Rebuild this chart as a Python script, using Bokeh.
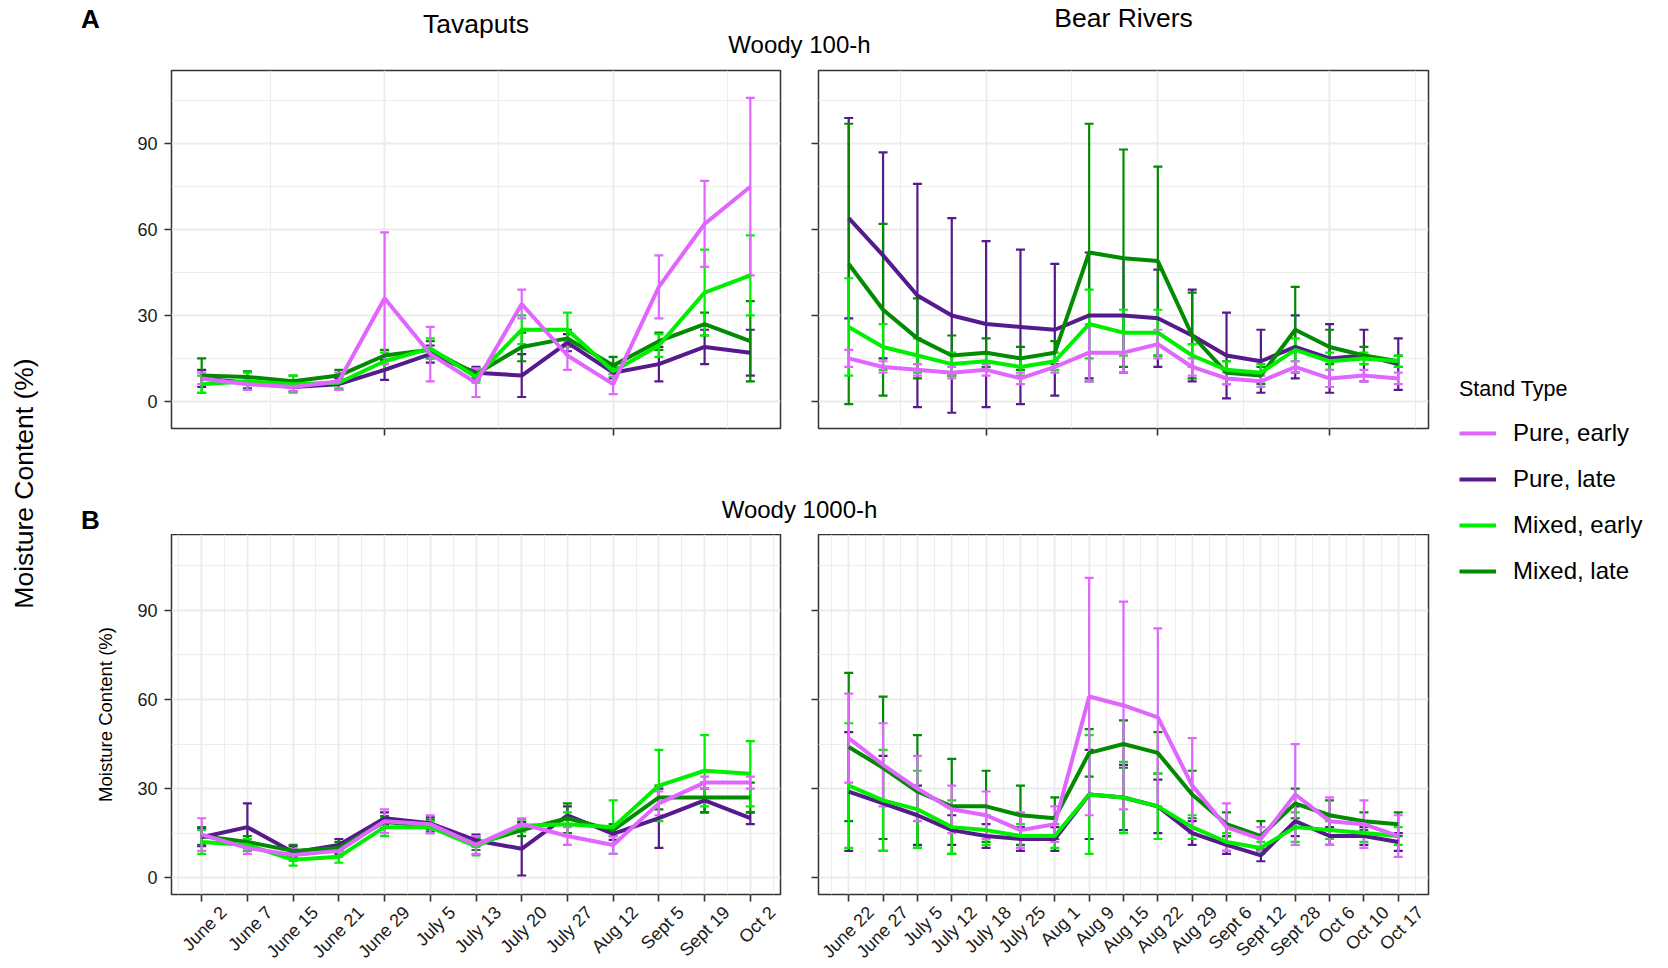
import math
from bokeh.plotting import figure
from bokeh.models import (Range1d, FixedTicker, Whisker, TeeHead, ColumnDataSource,
                          Label, Legend, LegendItem)
from bokeh.core.properties import value
from bokeh.layouts import row, column
from bokeh.embed import file_html
from bokeh.resources import INLINE

FONT = "Liberation Sans"

# ---------------- data ----------------
dates_tavaputs = ["June 2", "June 7", "June 15", "June 21", "June 29", "July 5", "July 13",
                  "July 20", "July 27", "Aug 12", "Sept 5", "Sept 19", "Oct 2"]
dates_bear = ["June 22", "June 27", "July 5", "July 12", "July 18", "July 25", "Aug 1", "Aug 9",
              "Aug 15", "Aug 22", "Aug 29", "Sept 6", "Sept 12", "Sept 28", "Oct 6", "Oct 10", "Oct 17"]

series_names = ["Pure, early", "Pure, late", "Mixed, early", "Mixed, late"]
series_colors = ["#E066FF", "#551A8B", "#00EE00", "#008B00"]

# Woody 100-h, Tavaputs
t100_pure_early = [8, 6, 5, 7, 36, 16.5, 6.5, 34, 16, 6, 40, 62, 75]
t100_pure_early_err = [2, 2, 1.5, 3, 23, 9.5, 5, 5, 5, 3.5, 11, 15, 31]
t100_pure_late = [8, 6.5, 5, 6, 11, 16.5, 10, 9, 20.5, 10, 13, 19, 17]
t100_pure_late_err = [3, 2, 1.5, 2, 3.5, 3, 2, 7.5, 3, 2, 6, 6, 8]
t100_mixed_early = [6, 7, 6, 6.5, 14, 18.5, 8.5, 25, 25, 10.5, 19.5, 38, 44]
t100_mixed_early_err = [3, 3, 3, 2, 3, 3.5, 2, 5, 6, 2, 4, 15, 14]
t100_mixed_late = [9, 8.5, 7, 9, 16, 18, 9.5, 19, 22, 12.5, 21, 27, 21]
t100_mixed_late_err = [6, 2, 2, 2, 2, 3, 2, 5, 3, 3, 3, 4, 14]

# Woody 100-h, Bear Rivers
b100_pure_early = [15, 12, 11, 10, 11, 8, 12, 17, 17, 20, 12, 8, 7, 12, 8, 9, 8]
b100_pure_early_err = [3, 2, 2, 2, 2, 2, 2, 10, 7, 5, 3, 2, 2, 2, 3, 2, 2]
b100_pure_late = [64, 51, 37, 30, 27, 26, 25, 30, 30, 29, 23, 16, 14, 19, 15, 16, 13]
b100_pure_late_err = [35, 36, 39, 34, 29, 27, 23, 22, 20, 17, 16, 15, 11, 11, 12, 9, 9]
b100_mixed_early = [26, 19, 16, 13, 14, 12, 14, 27, 24, 24, 16, 11, 10, 18, 14, 15, 14]
b100_mixed_early_err = [17, 8, 6, 4, 3, 3, 3, 12, 8, 8, 4, 3, 3, 4, 3, 2, 2]
b100_mixed_late = [48, 32, 22, 16, 17, 15, 17, 52, 50, 49, 23, 10, 9, 25, 19, 16, 14]
b100_mixed_late_err = [49, 30, 14, 7, 5, 4, 4, 45, 38, 33, 15, 4, 3, 15, 6, 3, 2]

# Woody 1000-h, Tavaputs
t1000_pure_early = [14.5, 10, 7.6, 9, 19, 18, 11, 18, 14, 11, 25, 32, 32]
t1000_pure_early_err = [5.5, 2, 2, 2, 4, 3, 3, 2, 3, 3, 4, 2, 2]
t1000_pure_late = [13.6, 17, 8.5, 11, 20, 18.3, 12.5, 9.7, 21, 14.7, 20, 26, 20]
t1000_pure_late_err = [3, 8, 2, 2, 2, 2, 2, 9, 3, 2, 10, 4, 2]
t1000_mixed_early = [12, 11, 6, 7, 17, 17, 10.5, 17.5, 18, 17, 31, 36, 35]
t1000_mixed_early_err = [4, 2, 2, 2, 3, 2, 3, 2, 4, 9, 12, 12, 11]
t1000_mixed_late = [14, 12, 9, 10, 18.7, 17.5, 11.3, 16, 20, 16, 27, 27, 27]
t1000_mixed_late_err = [3, 2, 2, 2, 2, 2, 2, 2, 5, 2, 4, 5, 5]

# Woody 1000-h, Bear Rivers
b1000_pure_early = [47, 38, 30, 23, 21, 16, 18, 61, 58, 54, 31, 17, 13, 28, 19, 18, 14]
b1000_pure_early_err = [15, 14, 11, 8, 8, 6, 6, 40, 35, 30, 16, 8, 4, 17, 8, 8, 7]
b1000_pure_late = [29, 25, 21, 16, 14, 13, 13, 28, 27, 24, 15, 11, 7.5, 19, 14, 14, 12]
b1000_pure_late_err = [20, 16, 10, 5, 4, 4, 4, 15, 11, 9, 4, 3, 2, 5, 3, 3, 3]
b1000_mixed_early = [31, 26, 23, 17, 16, 14, 14, 28, 27, 24, 17, 12, 10, 17, 16, 15, 14]
b1000_mixed_early_err = [21, 17, 13, 9, 5, 4, 4, 20, 12, 11, 4, 3, 2, 5, 3, 3, 3]
b1000_mixed_late = [44, 37, 29, 24, 24, 21, 20, 42, 45, 42, 28, 18, 14, 25, 21, 19, 18]
b1000_mixed_late_err = [25, 24, 19, 16, 12, 10, 7, 8, 8, 7, 8, 4, 5, 5, 5, 3, 4]

y_ticks = [0, 30, 60, 90]
y_minor = [15, 45, 75, 105]

DRAW_ORDER = [1, 3, 2, 0]
GRID = "#EBEBEB"
DARK = "#333333"
TXT = "#1a1a1a"


def make_panel(cats, vals, errs, xr, yr, width, height, mb, major_x, minor_x,
               show_y_labels, y_axis_label=None):
    p = figure(width=width, height=height, x_range=Range1d(*xr), y_range=Range1d(*yr),
               output_backend="svg", toolbar_location=None, title=None,
               min_border_left=mb[0], min_border_right=mb[1],
               min_border_top=mb[2], min_border_bottom=mb[3])
    p.background_fill_color = "white"
    p.border_fill_color = "white"
    p.outline_line_color = DARK
    p.outline_line_width = 1.5

    p.xaxis.ticker = FixedTicker(ticks=major_x, minor_ticks=minor_x)
    p.yaxis.ticker = FixedTicker(ticks=y_ticks, minor_ticks=y_minor)
    for g in (p.xgrid, p.ygrid):
        g.grid_line_color = GRID
        g.grid_line_width = 1.8
        g.minor_grid_line_color = GRID
        g.minor_grid_line_width = 0.9

    for ax in (p.xaxis[0], p.yaxis[0]):
        ax.axis_line_color = None
        ax.major_tick_line_color = DARK
        ax.major_tick_line_width = 1.6
        ax.major_tick_out = 7
        ax.major_tick_in = 0
        ax.minor_tick_line_color = None
        ax.minor_tick_out = 0
        ax.major_label_text_font = FONT
        ax.major_label_text_color = TXT

    xa = p.xaxis[0]
    ya = p.yaxis[0]
    ya.major_label_text_font_size = "18px"
    ya.major_label_standoff = 7
    if not show_y_labels:
        ya.major_label_overrides = {t: "" for t in y_ticks}
        ya.major_label_text_font_size = "0px"
        ya.major_label_standoff = 0
    # x tick texts are written in a separate strip below the panel
    xa.major_label_overrides = {t: "" for t in major_x}
    xa.major_label_text_font_size = "0px"
    xa.major_label_standoff = 0
    if y_axis_label:
        ya.axis_label = y_axis_label
        ya.axis_label_text_font = FONT
        ya.axis_label_text_font_size = "18.5px"
        ya.axis_label_text_font_style = "normal"
        ya.axis_label_text_color = "black"
        ya.axis_label_standoff = 18

    xs = list(range(1, len(cats) + 1))
    for k in DRAW_ORDER:
        v, e, c = vals[k], errs[k], series_colors[k]
        src = ColumnDataSource(dict(x=xs, y=v,
                                    lo=[a - b for a, b in zip(v, e)],
                                    hi=[a + b for a, b in zip(v, e)]))
        p.add_layout(Whisker(source=src, base="x", lower="lo", upper="hi",
                             line_color=c, line_width=2.2,
                             upper_head=TeeHead(size=9, line_color=c, line_width=2.2),
                             lower_head=TeeHead(size=9, line_color=c, line_width=2.2)))
        p.line("x", "y", source=src, line_color=c, line_width=4)
    return p


def blank(w, h, xr=None):
    f = figure(width=w, height=h, x_range=Range1d(*(xr or (0, w))), y_range=Range1d(0, h),
               x_axis_type=None, y_axis_type=None, output_backend="svg", title=None,
               toolbar_location=None, min_border_left=0, min_border_right=0,
               min_border_top=0, min_border_bottom=0)
    f.outline_line_color = None
    f.background_fill_color = "white"
    f.border_fill_color = "white"
    return f


def lab(f, x, y, text, size, bold=False):
    f.add_layout(Label(x=x, y=y, text=text, text_font=FONT, text_font_size=size,
                       text_font_style="bold" if bold else "normal",
                       text_align="center", text_baseline="middle",
                       text_color="black"))


def tick_strip(cats, fig_w, xr, frame_w, border_left, h):
    # x range extended so that category positions line up with the panel above
    scale = (xr[1] - xr[0]) / frame_w
    ext = (xr[0] - border_left * scale, xr[0] + (fig_w - border_left) * scale)
    f = blank(fig_w, h, ext)
    src = ColumnDataSource(dict(x=list(range(1, len(cats) + 1)), text=cats))
    f.text(x="x", y=h - 6, text="text", source=src, angle=math.pi / 4,
           text_align="right", text_baseline="middle", x_offset=22,
           text_font=value(FONT), text_font_size=value("18px"), text_color=TXT)
    return f


XR_T = (0.34, 13.66)
XR_B = (0.12, 17.88)
YR_100 = (-9.5, 115.6)
YR_1000 = (-5.7, 115.6)

n_t = len(dates_tavaputs)
n_b = len(dates_bear)
major_t_top = [5, 10]
minor_t_top = [2.5, 7.5, 12.5]
major_b_top = [5, 10, 15]
minor_b_top = [2.5, 7.5, 12.5, 17.5]
major_t_bot = list(range(1, n_t + 1))
minor_t_bot = [i + 0.5 for i in range(0, n_t + 1)]
major_b_bot = list(range(1, n_b + 1))
minor_b_bot = [i + 0.5 for i in range(0, n_b + 1)]

H1, R1, H2, R2, R3 = 58, 412, 64, 369, 63
tl = make_panel(dates_tavaputs,
                [t100_pure_early, t100_pure_late, t100_mixed_early, t100_mixed_late],
                [t100_pure_early_err, t100_pure_late_err, t100_mixed_early_err, t100_mixed_late_err],
                XR_T, YR_100, 751, R1, (123, 19, 12, 42), major_t_top, minor_t_top, True)
tr = make_panel(dates_bear,
                [b100_pure_early, b100_pure_late, b100_mixed_early, b100_mixed_late],
                [b100_pure_early_err, b100_pure_late_err, b100_mixed_early_err, b100_mixed_late_err],
                XR_B, YR_100, 639, R1, (19, 10, 12, 42), major_b_top, minor_b_top, False)
bl = make_panel(dates_tavaputs,
                [t1000_pure_early, t1000_pure_late, t1000_mixed_early, t1000_mixed_late],
                [t1000_pure_early_err, t1000_pure_late_err, t1000_mixed_early_err, t1000_mixed_late_err],
                XR_T, YR_1000, 751, R2, (123, 19, 0, 9), major_t_bot, minor_t_bot, True,
                y_axis_label="Moisture Content (%)")
br = make_panel(dates_bear,
                [b1000_pure_early, b1000_pure_late, b1000_mixed_early, b1000_mixed_late],
                [b1000_pure_early_err, b1000_pure_late_err, b1000_mixed_early_err, b1000_mixed_late_err],
                XR_B, YR_1000, 639, R2, (19, 10, 0, 9), major_b_bot, minor_b_bot, False)

xl = tick_strip(dates_tavaputs, 751, XR_T, 609, 123, R3)
xrs = tick_strip(dates_bear, 639, XR_B, 610, 19, R3)

TOTAL_H = H1 + R1 + H2 + R2 + R3

# headers (label y = distance of the text centre above the header's bottom edge)
h1 = blank(1390, H1)
lab(h1, 42, 39.5, "A", "26px", bold=True)
lab(h1, 427.5, 35, "Tavaputs", "26.5px")
lab(h1, 1075, 41, "Bear Rivers", "26.5px")
lab(h1, 751, 14.5, "Woody 100-h", "24px")

h2 = blank(1390, H2)
lab(h2, 42, 14.5, "B", "26px", bold=True)
lab(h2, 751, 25.5, "Woody 1000-h", "24px")

# frames of the side figures are aligned by the row, so both get equal borders
SIDE_B = 377

# left common y label (as an axis label centred on the full height)
lf = figure(width=48, height=TOTAL_H, x_range=Range1d(0, 1), y_range=Range1d(0, 1),
            x_axis_type=None, output_backend="svg", toolbar_location=None, title=None,
            min_border_left=40, min_border_right=0, min_border_top=SIDE_B,
            min_border_bottom=TOTAL_H - 2 * 483 + SIDE_B)
lf.outline_line_color = None
lf.ygrid.visible = False
lya = lf.yaxis[0]
lya.ticker = FixedTicker(ticks=[])
lya.axis_line_color = None
lya.major_tick_line_color = None
lya.minor_tick_line_color = None
lya.major_tick_out = 0
lya.minor_tick_out = 0
lya.major_label_standoff = 0
lya.axis_label = "Moisture Content (%)"
lya.axis_label_text_font = FONT
lya.axis_label_text_font_size = "26.5px"
lya.axis_label_text_font_style = "normal"
lya.axis_label_text_color = "black"
lya.axis_label_standoff = 2

# legend
lg = figure(width=214, height=TOTAL_H, x_range=Range1d(0, 1), y_range=Range1d(0, 1),
            x_axis_type=None, y_axis_type=None, output_backend="svg", toolbar_location=None,
            title=None, min_border_left=21, min_border_right=0, min_border_top=SIDE_B,
            min_border_bottom=TOTAL_H - 2 * 483 + SIDE_B)
lg.outline_line_color = None
items = []
for name, col in zip(series_names, series_colors):
    r = lg.line(x=[float("nan")], y=[float("nan")], line_color=col, line_width=4)
    items.append(LegendItem(label=name, renderers=[r]))
legend = Legend(items=items, title="Stand Type", location="top_left",
                title_text_font=FONT, title_text_font_size="21.5px",
                title_text_font_style="normal", title_text_color="black",
                title_standoff=16,
                label_text_font=FONT, label_text_font_size="24px", label_text_color="black",
                label_standoff=17, glyph_width=37, glyph_height=30, label_height=30,
                spacing=16, padding=0, margin=0, border_line_color=None,
                background_fill_alpha=0)
lg.add_layout(legend)

layout = row(lf, column(h1, row(tl, tr), h2, row(bl, br), row(xl, xrs)), lg)

open("out.html", "w").write(file_html(layout, INLINE))
